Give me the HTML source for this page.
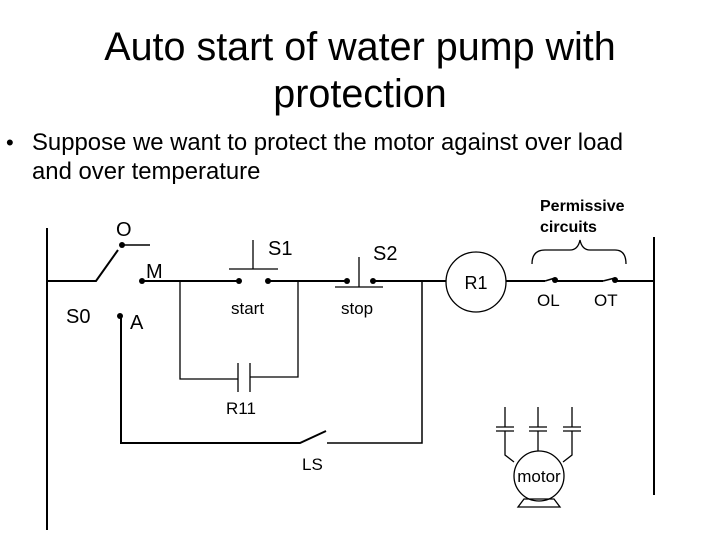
<!DOCTYPE html>
<html><head><style>
html,body{margin:0;padding:0;background:#fff;}
body{width:720px;height:540px;position:relative;overflow:hidden;font-family:"Liberation Sans",sans-serif;}
</style></head><body>
<svg width="720" height="540" viewBox="0 0 720 540" xmlns="http://www.w3.org/2000/svg" style="position:absolute;left:0;top:0">
<g font-family="Liberation Sans, sans-serif" fill="#000">
<text x="360" y="60" font-size="39.5" text-anchor="middle">Auto start of water pump with</text>
<text x="360" y="107" font-size="39.5" text-anchor="middle">protection</text>
<text x="6" y="150" font-size="22">•</text>
<text x="32" y="150" font-size="23.9">Suppose we want to protect the motor against over load</text>
<text x="32" y="179" font-size="23.9">and over temperature</text>
<text x="116" y="236" font-size="20">O</text>
<text x="146" y="278" font-size="20">M</text>
<text x="66" y="323" font-size="20">S0</text>
<text x="130" y="329" font-size="20">A</text>
<text x="268" y="255" font-size="20">S1</text>
<text x="373" y="260" font-size="20">S2</text>
<text x="231" y="314" font-size="17">start</text>
<text x="341" y="314" font-size="17">stop</text>
<text x="226" y="414" font-size="17">R11</text>
<text x="302" y="470" font-size="17">LS</text>
<text x="476" y="289" font-size="18" text-anchor="middle">R1</text>
<text x="540" y="211" font-size="16" font-weight="bold">Permissive</text>
<text x="540" y="232" font-size="16" font-weight="bold">circuits</text>
<text x="537" y="306" font-size="17">OL</text>
<text x="594" y="306" font-size="17">OT</text>
<text x="539" y="482" font-size="17" text-anchor="middle">motor</text>
</g>
<g stroke="#000" fill="none" stroke-width="2">
<line x1="47" y1="228" x2="47" y2="530"/>
<line x1="654" y1="237" x2="654" y2="495"/>
<polyline points="47,281 96,281 118,250"/>
<line x1="122" y1="245" x2="150" y2="245" stroke-width="1.5"/>
<line x1="142" y1="281" x2="239" y2="281"/>
<line x1="268" y1="281" x2="347" y2="281"/>
<line x1="373" y1="281" x2="446" y2="281"/>
<line x1="506" y1="281" x2="545" y2="281"/>
<line x1="545" y1="281" x2="555" y2="278" stroke-width="1.5"/>
<line x1="555" y1="281" x2="603" y2="281"/>
<line x1="603" y1="281" x2="615" y2="278" stroke-width="1.5"/>
<line x1="615" y1="281" x2="654" y2="281"/>
<polyline points="121,316 121,443 300,443 326,431" />
<polyline points="327,443 422,443 422,281" stroke-width="1.5"/>
</g>
<g stroke="#000" fill="none" stroke-width="1.3">
<line x1="229" y1="269" x2="278" y2="269"/>
<line x1="253" y1="240" x2="253" y2="269"/>
<line x1="335" y1="287" x2="383" y2="287"/>
<line x1="359" y1="257" x2="359" y2="287"/>
<polyline points="180,281 180,379 238,379"/>
<polyline points="250,377 298,377 298,281"/>
<line x1="238" y1="363" x2="238" y2="392"/>
<line x1="250" y1="363" x2="250" y2="392"/>
<circle cx="476" cy="282" r="30"/>
<path d="M532,264 Q532,250 545,250 L570,250 Q578,250 580,240 Q582,250 590,250 L615,250 Q626,250 626,264"/>
<circle cx="539" cy="476" r="25"/>
<polyline points="505,407 505,427"/><line x1="496" y1="427" x2="514" y2="427"/><line x1="496" y1="431" x2="514" y2="431"/><polyline points="505,431 505,455 514,462"/>
<polyline points="538,407 538,427"/><line x1="529" y1="427" x2="547" y2="427"/><line x1="529" y1="431" x2="547" y2="431"/><polyline points="538,431 538,451"/>
<polyline points="572,407 572,427"/><line x1="563" y1="427" x2="581" y2="427"/><line x1="563" y1="431" x2="581" y2="431"/><polyline points="572,431 572,455 563,462"/>
<polygon points="524,499 554,499 560,507 518,507"/>
</g>
<g fill="#000">
<circle cx="122" cy="245" r="3"/>
<circle cx="142" cy="281" r="3"/>
<circle cx="120" cy="316" r="3"/>
<circle cx="239" cy="281" r="3"/>
<circle cx="268" cy="281" r="3"/>
<circle cx="347" cy="281" r="3"/>
<circle cx="373" cy="281" r="3"/>
<circle cx="555" cy="280" r="3"/>
<circle cx="615" cy="280" r="3"/>
</g>
</svg>
</body></html>
